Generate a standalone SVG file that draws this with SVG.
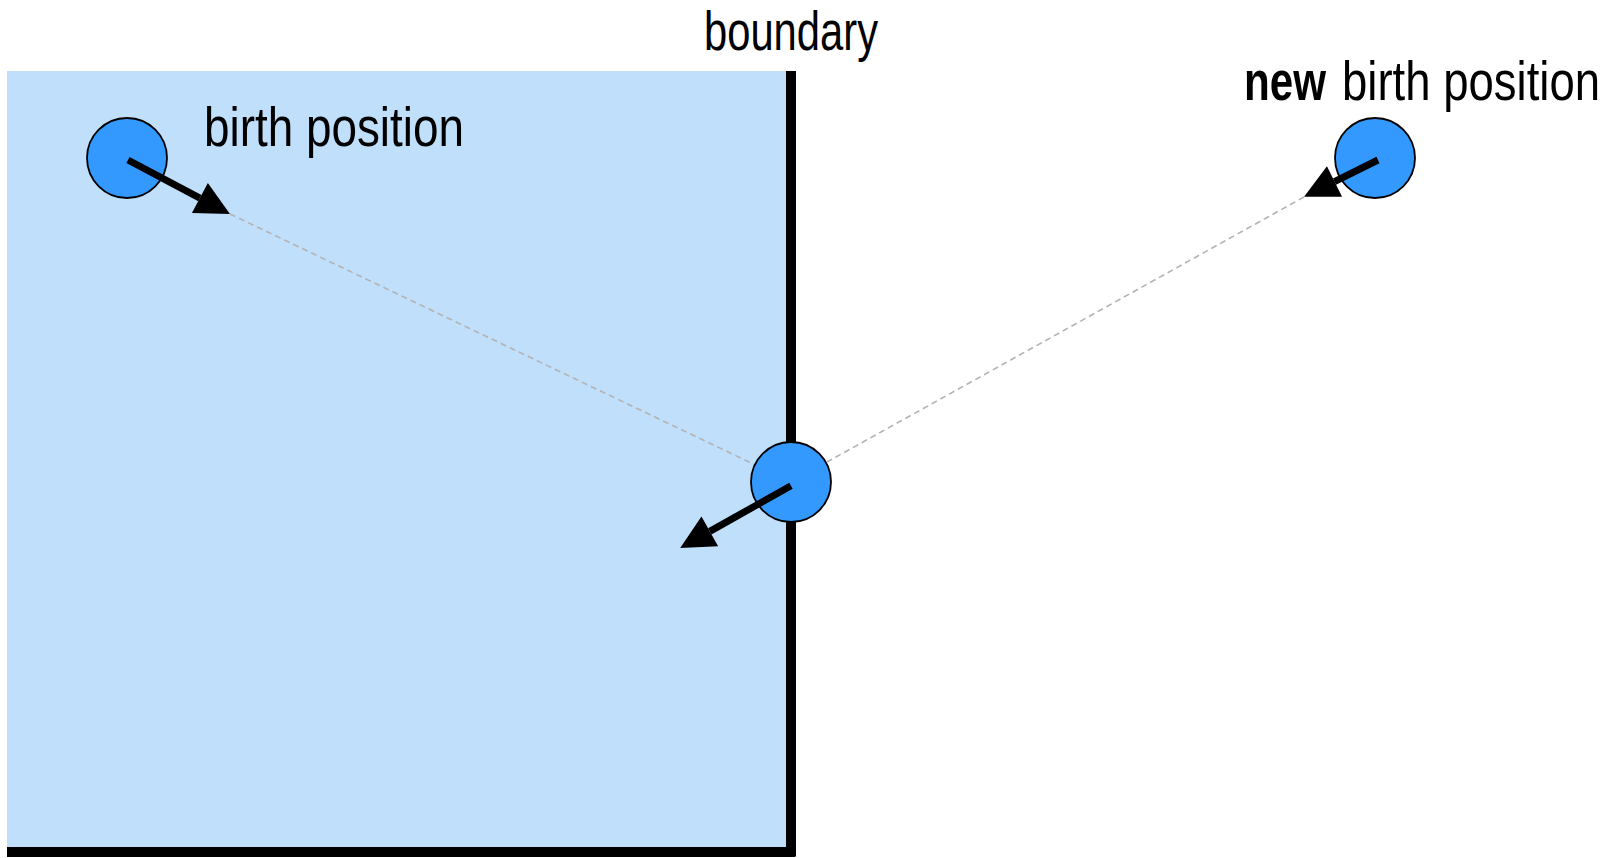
<svg xmlns="http://www.w3.org/2000/svg" width="1612" height="858" viewBox="0 0 1612 858">
<style>
.lbl{font-family:"Liberation Sans Narrow","Liberation Sans",Arial,sans-serif;font-size:55px;fill:#000}
.b{font-weight:bold}
.dot{fill:#3399ff;stroke:#000;stroke-width:1.8}
.dash{fill:none;stroke:#b3b3b3;stroke-width:1.6;stroke-dasharray:6 4}
.arr{fill:none;stroke:#000;stroke-width:7;marker-end:url(#ah)}
</style>
<defs>
<marker id="ah" markerUnits="userSpaceOnUse" markerWidth="36" markerHeight="36" refX="0" refY="17" orient="auto" overflow="visible">
<path d="M0,0 L34,17 L0,34 Z" fill="#000"/>
</marker>
</defs>
<rect width="1612" height="858" fill="#fff"/>
<g id="region">
<rect x="7" y="71" width="784" height="781" fill="#bfdffb"/>
<path d="M791,71 V856 M7,852 H795.5" fill="none" stroke="#000" stroke-width="10"/>
</g>
<g id="connectors">
<line class="dash" x1="230" y1="214" x2="791" y2="482"/>
<line class="dash" x1="1304" y1="197" x2="791" y2="482"/>
</g>
<g id="node-birth">
<circle class="dot" cx="127" cy="158" r="40"/>
<line class="arr" x1="128" y1="160" x2="199.9" y2="198.1"/>
</g>
<g id="node-boundary-hit">
<circle class="dot" cx="791" cy="482" r="40"/>
<line class="arr" x1="791" y1="485.7" x2="709.8" y2="531.4"/>
</g>
<g id="node-new-birth">
<circle class="dot" cx="1375" cy="158" r="40"/>
<line class="arr" x1="1378" y1="160" x2="1334.5" y2="181.6"/>
</g>
<g id="labels">
<text class="lbl" x="704" y="50" textLength="174" lengthAdjust="spacingAndGlyphs">boundary</text>
<text class="lbl" x="204" y="146" textLength="260" lengthAdjust="spacingAndGlyphs">birth position</text>
<text class="lbl" y="100"><tspan class="b" x="1244" textLength="82" lengthAdjust="spacingAndGlyphs">new</tspan><tspan x="1342" textLength="258" lengthAdjust="spacingAndGlyphs">birth position</tspan></text>
</g>
</svg>
